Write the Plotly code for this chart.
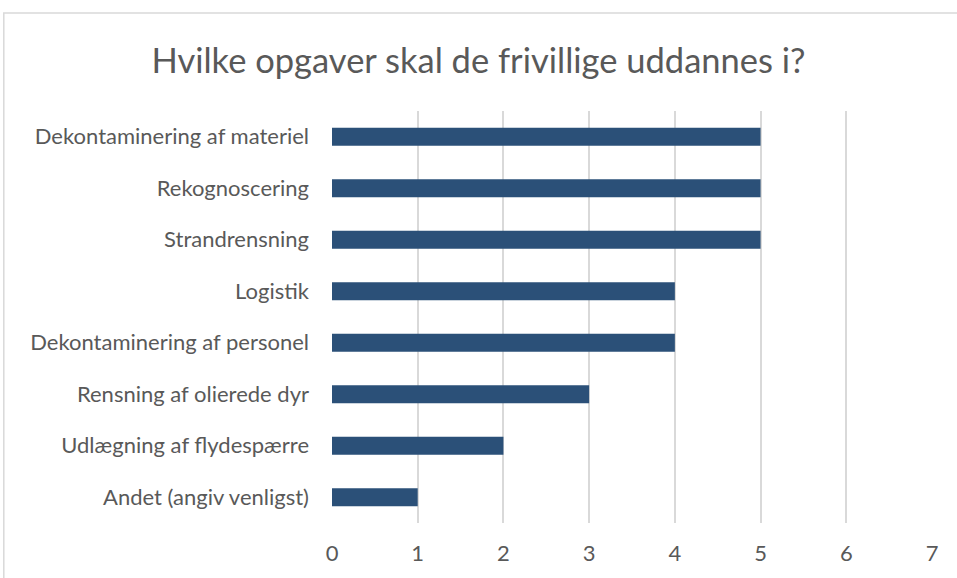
import plotly.graph_objects as go

categories = [
    "Dekontaminering af materiel",
    "Rekognoscering",
    "Strandrensning",
    "Logistik",
    "Dekontaminering af personel",
    "Rensning af olierede dyr",
    "Udlægning af flydespærre",
    "Andet (angiv venligst)",
]
counts = [5, 5, 5, 4, 4, 3, 2, 1]
x_ticks = [0, 1, 2, 3, 4, 5, 6, 7]

fig = go.Figure()
fig.add_trace(go.Bar(x=counts, y=categories, orientation="h",
                     marker=dict(color="#2B5078", line=dict(width=0)),
                     width=0.35, hoverinfo="x+y"))

fig.update_layout(
    width=957, height=578,
    margin=dict(l=332, r=25, t=111, b=51),
    paper_bgcolor="white", plot_bgcolor="white",
    font=dict(family="Lato", color="#595959", size=22),
    title=dict(text="Hvilke opgaver skal de frivillige uddannes i?",
               x=0.5, xanchor="center", y=0.895, yanchor="middle",
               font=dict(size=34.5, color="#595959")),
    showlegend=False,
)
fig.update_xaxes(range=[0, 7], tickvals=x_ticks, showgrid=True, gridcolor="#D9D9D9",
                 gridwidth=1.5, zeroline=False, showline=False,
                 ticklabelstandoff=15, tickfont=dict(size=22))
fig.update_yaxes(autorange="reversed", showgrid=False, showline=False, zeroline=False,
                 ticklabelstandoff=22, tickfont=dict(size=22))

# outer chart border
fig.add_shape(type="rect", xref="paper", yref="paper", x0=-0.547, x1=1.2, y0=-0.3, y1=1.238,
              line=dict(color="#D9D9D9", width=1.5), fillcolor="rgba(0,0,0,0)", layer="below")

fig.write_html("out.html", config={"displayModeBar": False},
               post_script="document.body.style.margin='0';")
